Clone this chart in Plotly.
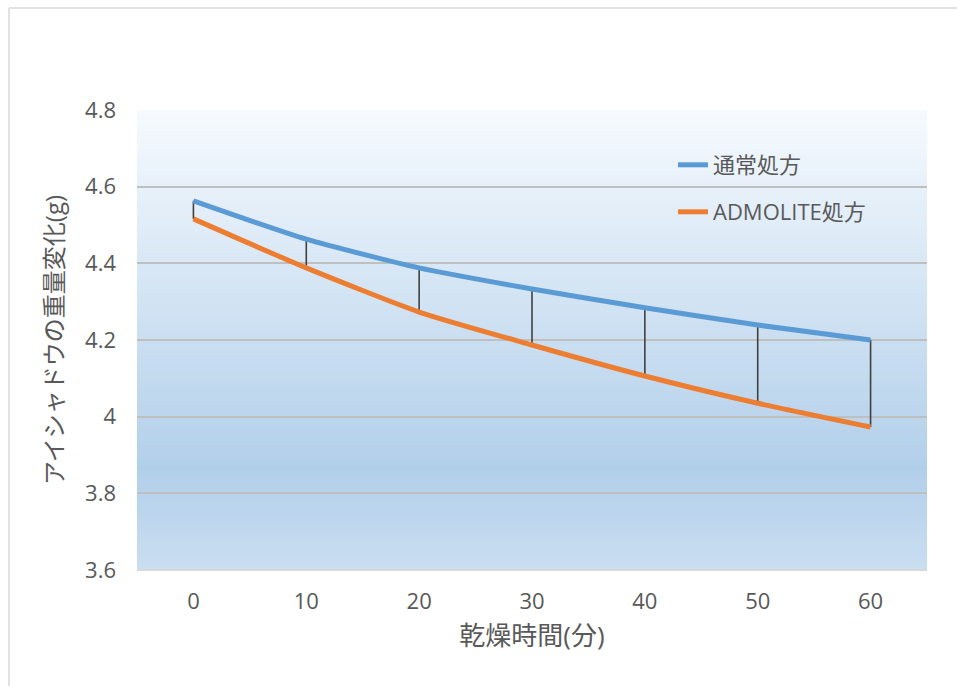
import plotly.graph_objects as go

# Drying time (minutes) and eyeshadow weight (g)
minutes = [0, 10, 20, 30, 40, 50, 60]
normal = [4.563, 4.463, 4.388, 4.333, 4.284, 4.239, 4.200]
admolite = [4.516, 4.388, 4.273, 4.187, 4.106, 4.035, 3.973]
y_ticks = [3.6, 3.8, 4.0, 4.2, 4.4, 4.6, 4.8]
y_tick_text = ["3.6", "3.8", "4", "4.2", "4.4", "4.6", "4.8"]

BLUE = "#5b9bd5"
ORANGE = "#ed7d31"
TEXT = "#595959"
FONT = "Open Sans, Noto Sans CJK JP, sans-serif"

# plot area geometry in pixels (for mapping paper coordinates)
W, H = 957, 686
L, R, T, B = 137, 30, 110, 116
PW, PH = W - L - R, H - T - B


def px_x(p):
    return (p - L) / PW


def px_y(p):
    return (H - B - p) / PH


fig = go.Figure()

# high-low connectors between the two series
hx, hy = [], []
for m, a, b in zip(minutes, normal, admolite):
    hx += [m, m, None]
    hy += [a, b, None]
fig.add_trace(go.Scatter(x=hx, y=hy, mode="lines", showlegend=False,
                         line=dict(color="#404040", width=1.6),
                         hoverinfo="skip"))

fig.add_trace(go.Scatter(x=minutes, y=normal, mode="lines", name="通常処方",
                         line=dict(color=BLUE, width=5, shape="spline",
                                   smoothing=0.6),
                         legend="legend"))
fig.add_trace(go.Scatter(x=minutes, y=admolite, mode="lines", name="ADMOLITE処方",
                         line=dict(color=ORANGE, width=5, shape="spline",
                                   smoothing=0.6),
                         legend="legend2"))

# vertical gradient fill of the plot area
stops = [(0.0, (246, 250, 254)), (0.78, (178, 207, 234)), (1.0, (202, 222, 241))]


def color_at(t):
    for (t0, c0), (t1, c1) in zip(stops[:-1], stops[1:]):
        if t0 <= t <= t1:
            f = (t - t0) / (t1 - t0)
            c = [round(c0[i] + (c1[i] - c0[i]) * f) for i in range(3)]
            return "rgb(%d,%d,%d)" % tuple(c)
    return "rgb(%d,%d,%d)" % stops[-1][1]


n = 92
shapes = []
for i in range(n):
    t0, t1 = i / n, (i + 1) / n
    shapes.append(dict(type="rect", xref="x domain", yref="y domain",
                       x0=0, x1=1, y0=1 - t1 - 0.002, y1=1 - t0,
                       fillcolor=color_at((t0 + t1) / 2), line=dict(width=0),
                       layer="below"))
# bottom edge of plot area
shapes.append(dict(type="line", xref="x domain", yref="y domain", x0=0, x1=1,
                   y0=0, y1=0, line=dict(color="#d9d9d9", width=2), layer="above"))
# chart frame
shapes.append(dict(type="line", xref="paper", yref="paper",
                   x0=px_x(9), x1=px_x(960), y0=px_y(8), y1=px_y(8),
                   line=dict(color="#d9d9d9", width=1.5)))
shapes.append(dict(type="line", xref="paper", yref="paper",
                   x0=px_x(9), x1=px_x(9), y0=px_y(8), y1=px_y(690),
                   line=dict(color="#d9d9d9", width=1.5)))

legend_common = dict(font=dict(family=FONT, size=22, color=TEXT),
                     bgcolor="rgba(0,0,0,0)", borderwidth=0,
                     xanchor="left", yanchor="middle", x=px_x(673))

fig.update_layout(
    width=W, height=H,
    margin=dict(l=L, r=R, t=T, b=B),
    paper_bgcolor="white",
    plot_bgcolor="rgba(0,0,0,0)",
    shapes=shapes,
    legend=dict(**legend_common, y=px_y(165)),
    legend2=dict(**legend_common, y=px_y(212)),
    xaxis=dict(
        range=[-5, 65], tickmode="array", tickvals=minutes,
        ticktext=[str(m) for m in minutes],
        showgrid=False, zeroline=False, showline=False, ticks="",
        ticklabelstandoff=16,
        tickfont=dict(family=FONT, size=22, color=TEXT),
        title=dict(text="乾燥時間(分)", standoff=12,
                   font=dict(family=FONT, size=26, color=TEXT)),
    ),
    yaxis=dict(
        range=[3.6, 4.8], tickmode="array", tickvals=y_ticks,
        ticktext=y_tick_text,
        showgrid=True, gridcolor="#bfbfbf", gridwidth=2,
        zeroline=False, showline=False, ticks="",
        ticklabelstandoff=20,
        tickfont=dict(family=FONT, size=22, color=TEXT),
        title=dict(text="アイシャドウの重量変化(g)", standoff=14,
                   font=dict(family=FONT, size=24, color=TEXT)),
    ),
)

fig.write_html("out.html")
